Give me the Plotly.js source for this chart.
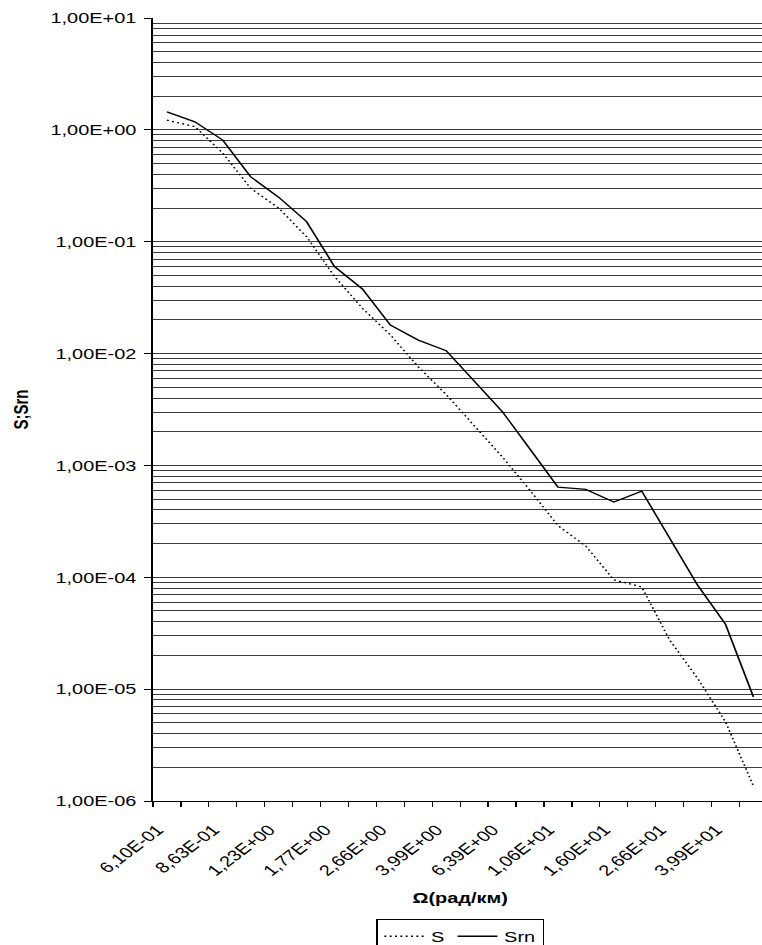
<!DOCTYPE html>
<html>
<head>
<meta charset="utf-8">
<script src="https://cdn.plot.ly/plotly-3.0.1.min.js"></script>
<style>
  html, body { margin: 0; padding: 0; overflow: hidden; background: #fff; width: 762px; height: 945px; }
  #chart { transform-origin: 0 0; }
</style>
</head>
<body>
<div id="chart"></div>
<script>
// Ω (рад/км) categories (odd ones are not labelled in the reference)
const categories = ["6,10E-01","7,25E-01","8,63E-01","1,03E+00","1,23E+00","1,48E+00","1,77E+00","2,17E+00",
  "2,66E+00","3,26E+00","3,99E+00","5,05E+00","6,39E+00","8,23E+00","1,06E+01","1,30E+01","1,60E+01",
  "2,06E+01","2,66E+01","3,26E+01","3,99E+01","5,32E+01"];

const seriesS = [1.22, 1.07, 0.62, 0.30, 0.20, 0.111, 0.049, 0.0254, 0.0147, 0.0076, 0.0043, 0.0023,
  0.0012, 0.0006, 0.00029, 0.00019, 0.000095, 0.000082, 0.0000275, 0.0000125, 0.0000051, 0.00000136];

const seriesSrn = [1.45, 1.18, 0.81, 0.38, 0.25, 0.151, 0.060, 0.0378, 0.018, 0.0132, 0.0106, 0.0057,
  0.00305, 0.0014, 0.00064, 0.00061, 0.00047, 0.00059, 0.000224, 0.000085, 0.000038, 0.0000085];

const yTickVals = [1e-6, 1e-5, 1e-4, 1e-3, 1e-2, 1e-1, 1, 10];
const yTickText = ["1,00E-06","1,00E-05","1,00E-04","1,00E-03","1,00E-02","1,00E-01","1,00E+00","1,00E+01"];

const xTickText = categories.map((c, i) => (i % 2 === 0 ? c : ""));
const minorVals = [];
for (let e = -6; e < 1; e++) for (let m = 2; m <= 9; m++) minorVals.push(m * Math.pow(10, e));

const FONT = "Liberation Sans, Arial, sans-serif";
const gridCol = "#3a3a3a";

const traces = [
  { x: categories, y: seriesS, name: "S", type: "scatter", mode: "lines",
    line: { color: "#000", width: 1.3, dash: "1.5px,2.5px" } },
  { x: categories, y: seriesSrn, name: "Srn", type: "scatter", mode: "lines",
    line: { color: "#000", width: 1.3 } }
];

const layout = {
  width: 600, height: 975,
  margin: { l: 115, r: 23.3, t: 18, b: 174 },
  paper_bgcolor: "#fff", plot_bgcolor: "#fff",
  font: { family: FONT, size: 15, color: "#000" },
  showlegend: true,
  legend: {
    orientation: "h", x: 0.5, xanchor: "center", y: -0.1507, yanchor: "top",
    bordercolor: "#000", borderwidth: 1, bgcolor: "#fff",
    font: { family: FONT, size: 15, color: "#000" }
  },
  xaxis: {
    type: "category", range: [-0.5, 21.5], automargin: false,
    tickmode: "array", tickvals: categories, ticktext: xTickText,
    tickson: "boundaries", ticks: "outside", ticklen: 5, tickwidth: 1, tickcolor: "#000",
    ticklabelstandoff: 13, ticklabelshift: -7,
    tickangle: -45, showgrid: false, zeroline: false,
    showline: true, linecolor: "#000", linewidth: 1.2,
    tickfont: { family: FONT, size: 15, color: "#000" },
    title: { text: "Ω(рад/км)", standoff: 14, font: { family: FONT, size: 15, color: "#000", weight: "bold" } }
  },
  yaxis: {
    type: "log", range: [-6, 1], automargin: false,
    tickmode: "array", tickvals: yTickVals, ticktext: yTickText,
    ticks: "outside", ticklen: 5, tickwidth: 1, tickcolor: "#000", ticklabelstandoff: 3,
    showgrid: true, gridcolor: gridCol, gridwidth: 1,
    minor: { tickvals: minorVals, showgrid: true, gridcolor: gridCol, gridwidth: 1, ticks: "" },
    showline: true, linecolor: "#000", linewidth: 1.5, zeroline: false,
    tickfont: { family: FONT, size: 15, color: "#000" },
    title: { text: "S;Srn", standoff: 12, font: { family: FONT, size: 15, color: "#000", weight: "bold" } }
  }
};

Plotly.newPlot("chart", traces, layout, { displayModeBar: false, staticPlot: true }).then(function () {
  // the reference picture is horizontally stretched; reproduce that once the layout is measured
  document.getElementById("chart").style.transform = "scaleX(1.33)";
});
</script>
</body>
</html>
